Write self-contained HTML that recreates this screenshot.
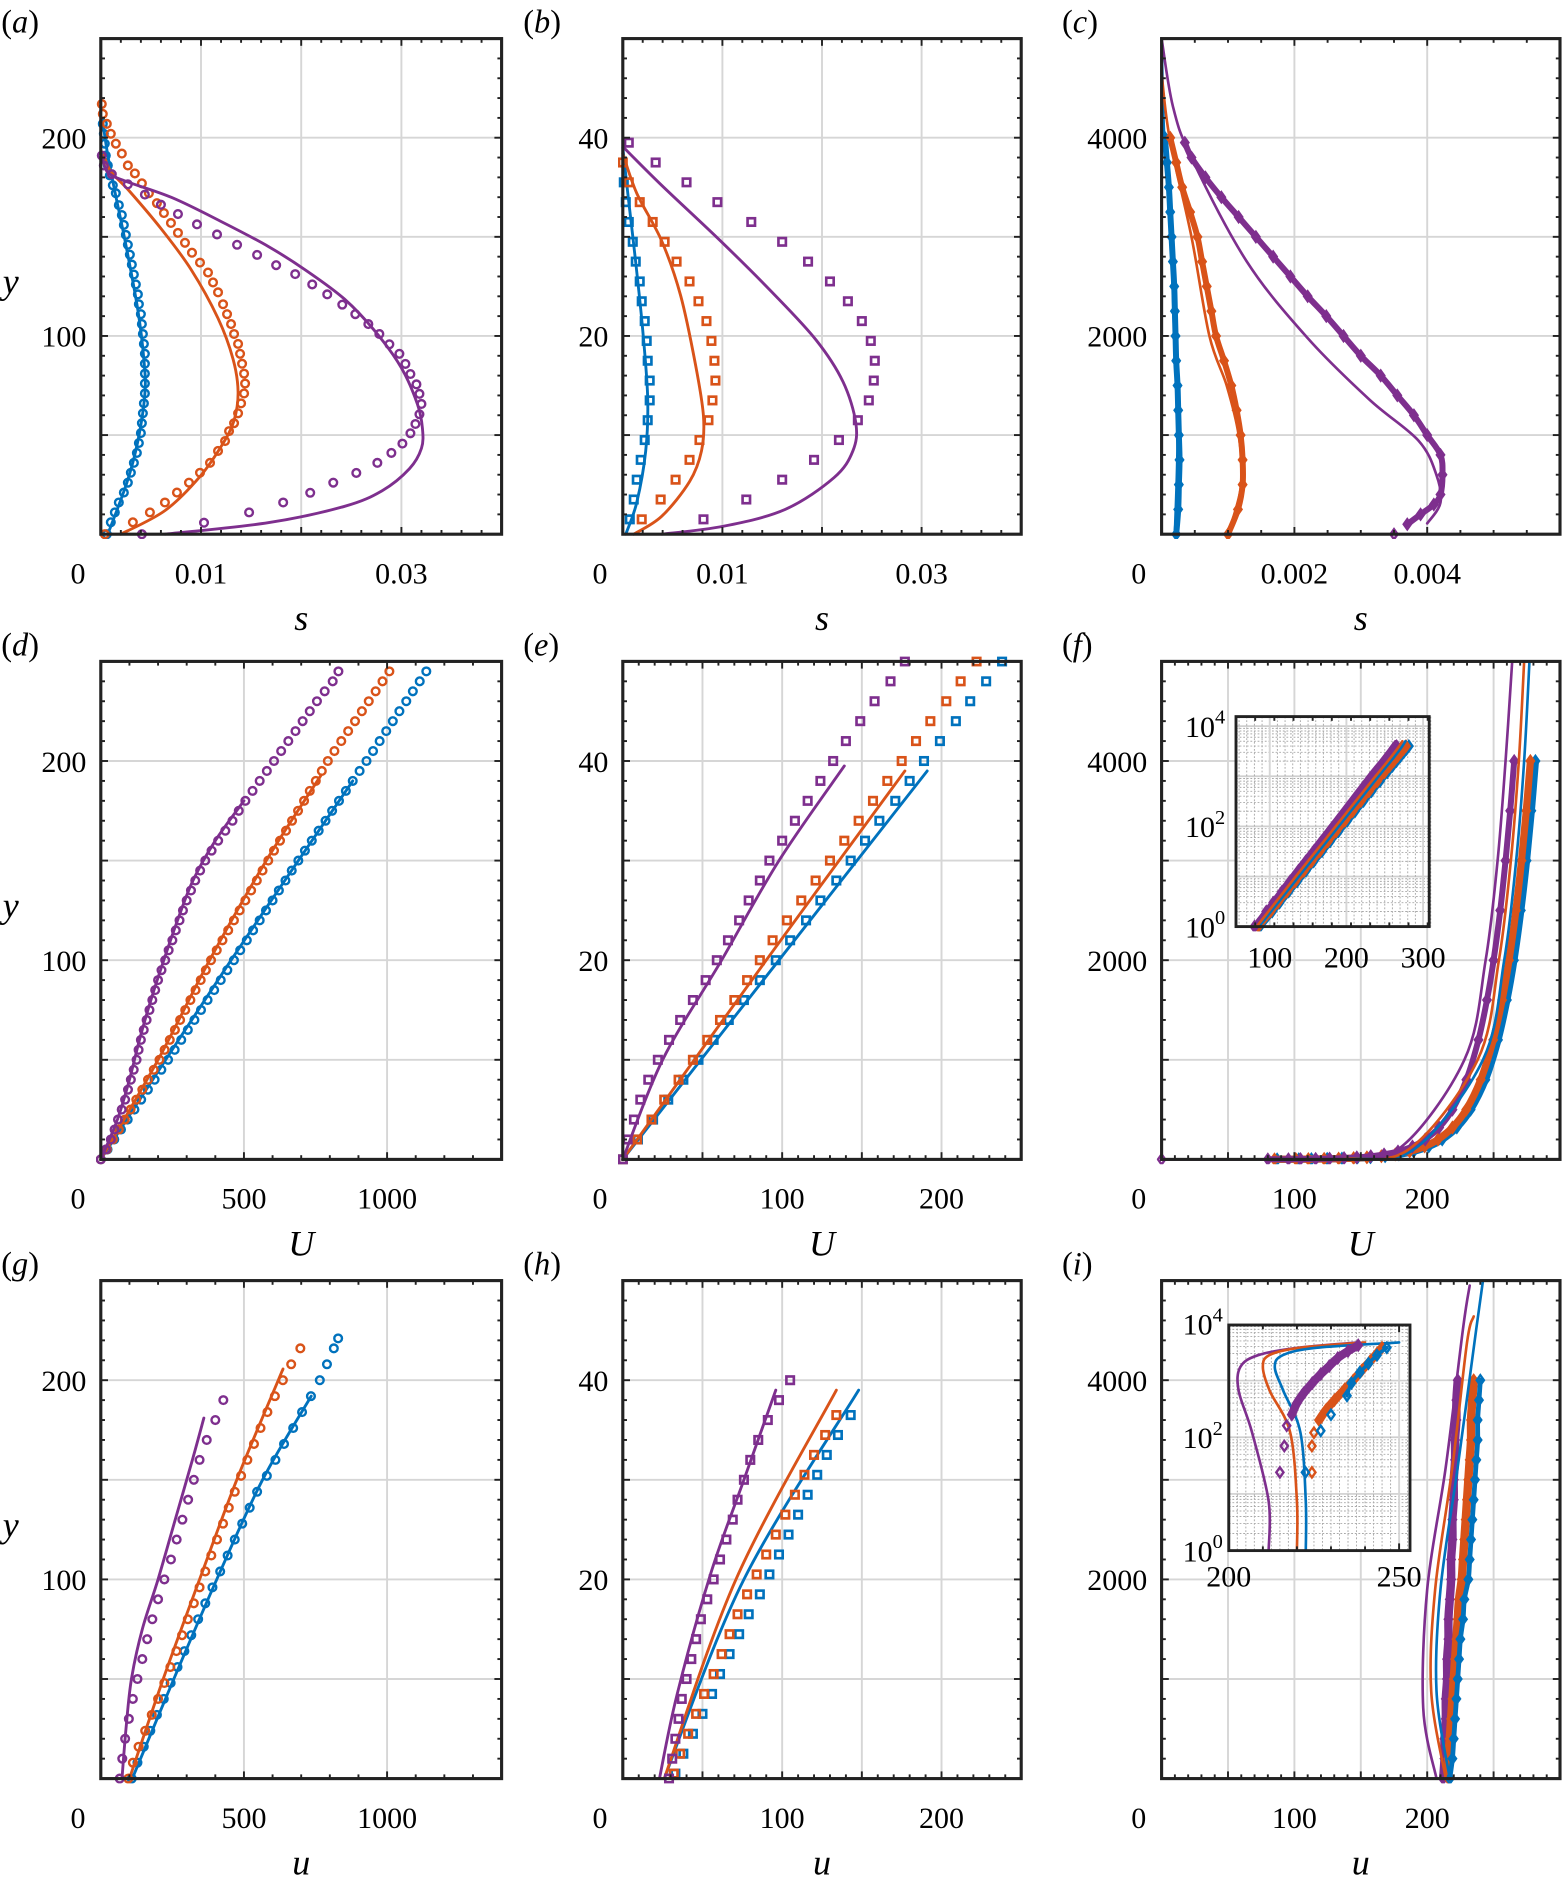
<!DOCTYPE html>
<html><head><meta charset="utf-8"><style>
html,body{margin:0;padding:0;background:#fff;}
svg{display:block;}
text{font-family:"Liberation Serif","Times New Roman",serif;}
</style></head><body>
<svg id="chart" width="1566" height="1888" viewBox="0 0 1305 1573" xmlns="http://www.w3.org/2000/svg"></svg>
<script>
// ---------- data ----------
// panel a (s vs y)
const a_y_blLine=[0,26,47,71,88,113,146,173,191,208];
const a_s_blLine=[.0007,.0026,.0037,.0044,.0043,.0037,.0025,.0014,.0007,.0002];
const a_y_blMk=[0,6,11,16,21,26,31,36,41,46,51,56,61,66,71,76,81,86,91,96,101,106,111,116,121,126,131,136,141,146,151,156,161,166,172,176,181,186,191,197,202,207];
const a_s_blMk=[.0006,.0010,.0014,.0018,.0023,.0027,.0030,.0033,.0036,.0038,.0040,.0041,.0042,.0043,.0044,.0044,.0044,.0044,.0044,.0043,.0042,.0041,.0040,.0038,.0037,.0035,.0033,.0031,.0029,.0027,.0025,.0023,.0021,.0018,.0015,.0012,.0009,.0007,.0005,.0004,.0003,.0002];
const a_y_orLine=[0,11.9,28.5,45,57.4,71.8,88.3,108.9,133.6,154.2,172.8,183,191.3];
const a_s_orLine=[.0020,.0064,.0098,.0121,.0133,.0137,.0132,.0117,.0090,.0060,.0029,.0010,.0003];
const a_y_orMk=[0,6,11,16,21,26,31,36,42,47,52,56,61,66,71,76,81,86,91,96,101,106,111,116,122,127,132,137,142,147,152,157,162,167,172,177,182,186,192,197,202,207,212,217];
const a_s_orMk=[.0004,.0032,.0049,.0064,.0076,.0088,.0099,.0109,.0117,.0124,.0128,.0133,.0137,.0140,.0143,.0144,.0143,.0141,.0139,.0137,.0133,.0130,.0126,.0122,.0117,.0112,.0107,.0099,.0091,.0084,.0077,.0070,.0063,.0056,.0048,.0041,.0034,.0027,.0021,.0015,.0010,.0006,.0002,.0001];
const a_y_puLine=[0,5.8,14,22,33,43.3,53.4,65.6,83.9,102.2,118.7,133,145.2,157.5,169.8,178,182,187,191];
const a_s_puLine=[.0064,.0167,.0243,.0281,.0308,.0320,.0321,.0316,.0300,.0274,.0243,.0205,.0167,.0121,.0071,.0025,.0008,.0003,.0001];
const a_y_puMk=[0,5.8,11,16,20.9,26,30.9,36,41,45.7,50.9,55.6,60.5,65.7,70.8,75.6,80.8,85.9,91,95.8,101,106,111,115.8,121,126,131.2,135.7,140.9,146,151.2,156.3,161.5,166.2,171.3,176.5,181.6,186,191];
const a_s_puMk=[.0041,.0103,.0148,.0182,.0209,.0232,.0255,.0276,.0290,.0301,.0309,.0314,.0318,.0320,.0318,.0315,.0309,.0304,.0298,.0288,.0278,.0267,.0254,.0241,.0226,.0211,.0194,.0175,.0156,.0136,.0116,.0096,.0077,.0060,.0044,.0027,.0011,.0003,.0001];
// panel b
const b_y_puMk=[39.5,37.5,35.5,33.5,31.5,29.5,27.5,25.5,23.5,21.5,19.5,17.5,15.5,13.5,11.5,9.5,7.5,5.5,3.5,1.5];
const b_s_puMk=[.0006,.0033,.0064,.0095,.0129,.0160,.0186,.0208,.0226,.0240,.0249,.0253,.0252,.0247,.0236,.0217,.0192,.0160,.0124,.0081];
const b_y_orMk=[37.5,35.5,33.5,31.5,29.5,27.5,25.5,23.5,21.5,19.5,17.5,15.5,13.5,11.5,9.5,7.5,5.5,3.5,1.5];
const b_s_orMk=[0,.0006,.0017,.0030,.0042,.0054,.0067,.0076,.0084,.0089,.0092,.0093,.0090,.0086,.0077,.0067,.0053,.0038,.0019];
const b_y_blMk=[35.5,33.5,31.5,29.5,27.5,25.5,23.5,21.5,19.5,17.5,15.5,13.5,11.5,9.5,7.5,5.5,3.5,1.5];
const b_s_blMk=[.0001,.0003,.0006,.0010,.0013,.0017,.0019,.0022,.0024,.0025,.0027,.0027,.0025,.0022,.0018,.0014,.0011,.0007];
const b_y_puLine=[39,35.2,29.6,24.4,19.6,15.4,11.2,8.4,5.7,2.5,0.8,0];
const b_s_puLine=[.0001,.0039,.0098,.0150,.0194,.0221,.0234,.0231,.0212,.0163,.0101,.0039];
const b_y_orLine=[38.4,34.4,29.6,24.1,17.1,11.9,8.4,5.3,1.8,0];
const b_s_orLine=[0,.0014,.0039,.0058,.0073,.0081,.0079,.0067,.0039,.0011];
const b_y_blLine=[39,34.4,27.4,20.6,13.7,8.4,3.2,0];
const b_s_blLine=[0,.0005,.0013,.0020,.0025,.0023,.0014,.0003];
// panel c
const c_y_blMk=[0,250,500,750,1000,1250,1500,1750,2000,2250,2500,2750,3000,3250,3500,3750,4000];
const c_s_blMk=[.00022,.00025,.00026,.00027,.00026,.00025,.00024,.00022,.00021,.0002,.00019,.00017,.00015,.00013,.00011,.00008,.00005];
const c_y_blLine=[0,1000,2000,3000,4000,5000];
const c_s_blLine=[.0002,.00024,.00019,.00014,.00004,0];
const c_y_orMk=[0,250,500,750,1000,1250,1500,1750,2000,2250,2500,2750,3000,3250,3500,3750,4000];
const c_s_orMk=[.0010,.00115,.00122,.00122,.00119,.00113,.00105,.00094,.00082,.00075,.00068,.00061,.00054,.00043,.00031,.00022,.00013];
const c_y_orLine=[0,500,1000,1500,2000,3000,4000,4650];
const c_s_orLine=[.0010,.0012,.00116,.00098,.00072,.00045,.00012,0];
const c_y_puMk=[0,100,200,300,400,600,800,1000,1200,1400,1600,1800,2000,2200,2400,2600,2800,3000,3200,3400,3600,3800,3950];
const c_s_puMk=[.0035,.0037,.0039,.0041,.0042,.00423,.0042,.0040,.0038,.00355,.0033,.0030,.00274,.00248,.0022,.00194,.00168,.00142,.00116,.0009,.00066,.00045,.00035];
const c_y_puLine=[5000,4317,3797,2754,1978,1358,943,596,318,109];
const c_s_puLine=[0,.00017,.00045,.00128,.0022,.00313,.00387,.00414,.0042,.0040];
// panel d
const d_y_mk=[0,5,10,15,20,25,30,35,40,45,50,55,60,65,70,75,80,85,90,95,100,105,110,115,120,125,130,135,140,145,150,155,160,165,170,175,180,185,190,195,200,205,210,215,220,225,230,235,240,245];
const d_U_puMk=[0,18,35,48,60,73,85,95,105,115,125,132,140,150,160,170,180,190,200,212,225,237,250,262,275,287,300,315,330,347,365,387,410,435,460,482,505,530,555,580,605,630,655,680,705,730,755,782,810,830];
const d_U_orMk=[0,21,42,63,84,104,124,145,165,185,205,223,241,259,277,295,313,331,349,367,385,405,425,445,465,485,505,525,545,565,585,605,626,647,668,689,710,730,751,772,793,816,840,864,888,912,936,960,984,1008];
const d_U_blMk=[0,23.5,47,70.5,94,117.5,141,164.5,188,211.5,235,258,281,304,327,350,373,396,419,442,465,487,510,532,555,577,600,622,645,667,690,713,737,761,785,808,832,856,880,904,928,951,974,997,1020,1043,1067,1090,1114,1137];
const d_y_puLine=[0,20,40,60,80,100,120,140,160,180];
const d_U_puLine=[0,58,100,135,175,220,268,322,400,500];
const d_y_orLine=[0,50,100,150,193];
const d_U_orLine=[0,200,380,578,770];
const d_y_blLine=[0,100,190];
const d_U_blLine=[0,455,880];
// panel e
const e_y_mk=[0,2,4,6,8,10,12,14,16,18,20,22,24,26,28,30,32,34,36,38,40,42,44,46,48,50];
const e_U_puMk=[0,3,7,11,16,22,29,36,44,52,59,66,73,79,86,92,100,108,116,124,132,140,149,158,168,177];
const e_U_orMk=[0,9,18,26,35,44,53,61,70,78,86,94,103,112,121,130,139,148,157,166,175,184,193,203,212,222];
const e_U_blMk=[0,9.5,19,28.5,38,47.5,57,66.5,76,86,96,105,115,124,134,143,152,161,171,180,189,199,209,218,228,238];
const e_y_puLine=[0,10,20,30,39.5];
const e_U_puLine=[0,25,62,98,139];
const e_y_orLine=[0,20,39];
const e_U_orLine=[0,90,177];
const e_y_blLine=[0,39];
const e_U_blLine=[0,191];
// panel f
const f_y_mk=[1,2,3,5,8,13,20,32,50,80,130,200,320,500,800,1200,1600,2000,2500,3000,3500,4000];
const f_U_puMk=[80,95.5,104.6,116,126.5,137.4,147,157.5,167.5,178,188.9,198.5,209,219,229.5,238.6,245,250,255,259,262.5,265.5];
const f_U_orMk=[85,101.1,110.5,122.4,133.3,144.6,154.6,165.5,175.9,186.8,198.1,208.1,219,229.4,240.3,249.7,256.4,261.6,266.8,271,274.6,277.7];
const f_U_blMk=[87,103.3,112.8,124.7,135.8,147.2,157.3,168.3,178.7,189.8,201.2,211.3,222.3,232.7,243.8,253.3,260,265.3,270.5,274.8,278.4,281.5];
const f_y_line=[0,1,10,100,1000,2000,3000,4000,5000];
const f_U_puLine=[0,78,127,178,228,244,253,259,264];
const f_U_orLine=[0,83,134,186,238,254,263,269,273];
const f_U_blLine=[0,86,138,190,242,258,267,273,277];
// panel g
const g_y_puMk=[0,10,20,30,40,50,60,70,80,90,100,110,120,130,140,150,160,170,180,190];
const g_U_puMk=[66,75,85,98,112,128,145,162,180,200,222,245,265,285,305,325,345,370,400,428];
const g_y_orMk=[0,8,16,24,32,40,48,56,64,72,80,88,96,104,112,120,128,136,144,152,160,168,176,184,192,200,208,216];
const g_U_orMk=[96,112,132,155,178,200,222,243,264,284,304,325,345,365,386,406,427,447,468,490,512,535,558,582,608,636,665,697];
const g_y_blMk=[0,8,16,24,32,40,48,56,64,72,80,88,96,104,112,120,128,136,144,152,160,168,176,184,192,200,208,216,221];
const g_U_blMk=[108,128,150,173,196,220,244,268,292,316,340,365,390,417,443,468,494,520,546,580,610,640,672,703,734,765,790,814,829];
const g_y_puLine=[0,25,50,75,100,130,160,181];
const g_U_puLine=[74,88,107,145,200,260,320,360];
const g_y_orLine=[0,50,100,150,200,205];
const g_U_orLine=[100,218,345,475,620,635];
const g_y_blLine=[0,50,100,150,192];
const g_U_blLine=[110,255,405,565,735];
// panel h
const h_y_puMk=[0,2,4,6,8,10,12,14,16,18,20,22,24,26,28,30,32,34,36,38,40];
const h_U_puMk=[29,31,33,35,37,40,43,46,49,53,57,61,65,69,72,76,80,85,91,98,105];
const h_y_mk=[0.5,2.5,4.5,6.5,8.5,10.5,12.5,14.5,16.5,18.5,20.5,22.5,24.5,26.5,28.5,30.5,32.5,34.5,36.5];
const h_U_orMk=[32,36,41,46,51,57,62,67,72,78,84,90,96,102,108,114,120,127,134];
const h_U_blMk=[33,38,44,50,56,61,67,73,79,86,92,98,104,110,116,122,128,135,143];
const h_y_puLine=[0,8.4,20.5,30,39];
const h_U_puLine=[23,34,55,76,96];
const h_y_orLine=[0,20,39];
const h_U_orLine=[26,71,134];
const h_y_blLine=[0,20,39];
const h_U_blLine=[26,76,148];
// panel i
const i_y_mk=[0,200,400,600,800,1000,1200,1400,1600,1800,2000,2200,2400,2600,2800,3000,3200,3400,3600,3800,4000];
const i_U_puMk=[212,213,213,214,214,215,215,216,216,217,218,218,219,219,220,220,221,221,222,222,223];
const i_U_orMk=[216,216,217,218,219,220,221,222,223,224,226,227,228,229,230,231,232,233,233,234,235];
const i_U_blMk=[217,219,220,221,222,223,224,225,227,228,231,232,233,234,235,236,237,238,238,239,240];
const i_y_puLine=[0,710,1900,3130,4520,4950];
const i_U_puLine=[207,197,200,214,227,232];
const i_y_orLine=[0,880,1900,3130,4380,4640];
const i_U_orLine=[214,203,206,219,230,235];
const i_y_blLine=[0,880,1900,3130,4520,5000];
const i_U_blLine=[217,207,210,223,237,242];
// inset i
const ii_y_line=[1,7.4,123,660,1740,2830,3800,4700];
const ii_U_puLine=[211.7,211.7,206.8,202.9,203.4,208.8,220.5,238];
const ii_U_orLine=[220,220,218,212,210,212,221,240];
const ii_U_blLine=[222.6,222.6,221,216,213.5,216,226,250];
const ii_y_puMk=[24,70,160,250,400,600,900,1300,1800,2500,3300,4200];
const ii_U_puMk=[215,216.3,217,218.5,220,222,224.5,227,229.5,232,235,238];
const ii_y_orMk=[24,70,120,200,300,450,700,1000,1500,2200,3000,3800];
const ii_U_orMk=[224.4,224.4,225,226.5,228.5,231,234,236.5,239,241.5,243.5,245];
const ii_y_blMk=[24,130,250,540,900,1400,2000,2800,3800];
const ii_U_blMk=[222.5,227,230,234.7,236,238.5,241,243.5,246.4];

// ---------- drawing ----------
const NS='http://www.w3.org/2000/svg';
const svg=document.getElementById('chart');
const BL='#0072BD', OR='#D95319', PU='#7E2F8E';
const FONT='"Liberation Serif", serif';
let clipId=0;
function mk(tag,attrs,parent){const e=document.createElementNS(NS,tag);for(const k in attrs)e.setAttribute(k,attrs[k]);(parent||svg).appendChild(e);return e;}
function fx(p,v){return p.box[0]+(v-p.x[0])/(p.x[1]-p.x[0])*(p.box[2]-p.box[0]);}
function fy(p,v){if(p.log){if(v<=0)return null;v=Math.log10(v);}return p.box[3]-(v-p.y[0])/(p.y[1]-p.y[0])*(p.box[3]-p.box[1]);}
function pts(p,xs,ys){const o=[];for(let i=0;i<xs.length;i++){const Y=fy(p,ys[i]);if(Y===null)continue;o.push([fx(p,xs[i]),Y]);}return o;}
function smooth(P){if(P.length<3)return 'M'+P.map(q=>q[0].toFixed(2)+','+q[1].toFixed(2)).join('L');
 let d='M'+P[0][0].toFixed(2)+','+P[0][1].toFixed(2);
 for(let i=0;i<P.length-1;i++){const p0=P[Math.max(0,i-1)],p1=P[i],p2=P[i+1],p3=P[Math.min(P.length-1,i+2)];
  const c1=[p1[0]+(p2[0]-p0[0])/6,p1[1]+(p2[1]-p0[1])/6],c2=[p2[0]-(p3[0]-p1[0])/6,p2[1]-(p3[1]-p1[1])/6];
  d+='C'+c1[0].toFixed(2)+','+c1[1].toFixed(2)+' '+c2[0].toFixed(2)+','+c2[1].toFixed(2)+' '+p2[0].toFixed(2)+','+p2[1].toFixed(2);}
 return d;}
function line(g,p,xs,ys,color,w,name){const e=mk('path',{d:smooth(pts(p,xs,ys)),fill:'none',stroke:color,'stroke-width':w,'stroke-linejoin':'round','stroke-linecap':'round'},g);
 
 }
function markers(g,p,xs,ys,color,shape,name){const P=pts(p,xs,ys);
 for(const q of P){let e;
  if(shape==='circle')e=mk('circle',{cx:q[0],cy:q[1],r:3.2,fill:'none',stroke:color,'stroke-width':2},g);
  else if(shape==='square')e=mk('rect',{x:q[0]-3.1,y:q[1]-3.1,width:6.2,height:6.2,fill:'none',stroke:color,'stroke-width':2.2},g);
  else e=mk('polygon',{points:`${q[0]},${q[1]-4.2} ${q[0]+3},${q[1]} ${q[0]},${q[1]+4.2} ${q[0]-3},${q[1]}`,fill:'none',stroke:color,'stroke-width':2},g);
  
  }}
function txt(parent,x,y,s,size,anchor,italic,name){const e=mk('text',{x:x,y:y,'font-size':size,'font-family':FONT,'text-anchor':anchor||'middle','font-style':italic?'italic':'normal',fill:'#000'},parent);e.textContent=s;
 
 return e;}
function range(a,b,s){const o=[];const n=Math.round((b-a)/s);for(let i=0;i<=n;i++)o.push(a+i*s);return o;}

function axes(p,name){
 const g=mk('g',{},svg);
 
 
 const [x0,y0,x1,y1]=p.box;
 if(p.bg){const bg=mk('rect',{x:x0,y:y0,width:x1-x0,height:y1-y0,fill:'#fff'},g);
  
  }
 if(p.log){
  for(let d=0;d<5;d++)for(let k=1;k<10;k++){const v=Math.log10(k*Math.pow(10,d));if(v<=p.y[0]||v>=p.y[1])continue;const Y=fy({...p,log:false},v);
   const e=mk('line',{x1:x0,x2:x1,y1:Y,y2:Y,stroke:k===1?'#cfcfcf':'#aaa','stroke-width':k===1?1.4:0.8,'stroke-dasharray':k===1?'':'1.5,1.5'},g);
   
   }
  for(const v of range(Math.ceil(p.x[0]/p.xmg)*p.xmg,p.x[1],p.xmg)){const X=fx(p,v);
   const e=mk('line',{x1:X,x2:X,y1:y0,y2:y1,stroke:'#aaa','stroke-width':0.8,'stroke-dasharray':'1.5,1.5'},g);
   
   }
 }
 for(const v of range(Math.ceil(p.x[0]/p.xg-1e-9)*p.xg,p.x[1],p.xg)){const X=fx(p,v);if(X<=x0+1||X>=x1-1)continue;
  const e=mk('line',{x1:X,x2:X,y1:y0,y2:y1,stroke:'#d6d6d6','stroke-width':1.6},g);
  
  }
 if(!p.log)for(const v of range(p.y[0],p.y[1],p.yg)){const Y=fy(p,v);if(Y<=y0+1||Y>=y1-1)continue;
  const e=mk('line',{x1:x0,x2:x1,y1:Y,y2:Y,stroke:'#d6d6d6','stroke-width':1.6},g);
  
  }
 clipId++;const cp=mk('clipPath',{id:'cp'+clipId},g);
 const cr=mk('rect',{x:x0-4,y:y0-4,width:x1-x0+8,height:y1-y0+8},cp);
 
 
 const plot=mk('g',{'clip-path':`url(#cp${clipId})`},g);
 
 
 const tk=(X1,Y1,X2,Y2,nm)=>{const e=mk('line',{x1:X1,y1:Y1,x2:X2,y2:Y2,stroke:'#222','stroke-width':1.6},g);
  
  };
 if(p.xm)for(const v of range(p.x[0],p.x[1],p.xm)){const X=fx(p,v);if(X<x0||X>x1)continue;const L=(Math.abs(v/p.xg-Math.round(v/p.xg))<1e-6)?6:3.5;tk(X,y1,X,y1-L,'x-tick');tk(X,y0,X,y0+L,'x-tick');}
 if(p.ym)for(const v of range(p.y[0],p.y[1],p.ym)){const Y=fy(p,v);const L=(Math.abs(v/p.yg-Math.round(v/p.yg))<1e-6)?6:3.5;tk(x0,Y,x0+L,Y,'y-tick');tk(x1,Y,x1-L,Y,'y-tick');}
 p.plot=plot;p.g=g;return p;}
function frame(p,name){const [x0,y0,x1,y1]=p.box;
 const e=mk('rect',{x:x0,y:y0,width:x1-x0,height:y1-y0,fill:'none',stroke:'#222','stroke-width':p.bw||2.6},p.g);
 
 }
function labels(p,xl,yl,xt,pl,showY){const [x0,y0,x1,y1]=p.box;
 for(const [v,s] of xl){const X=v===0?x0-19:fx(p,v);txt(p.g,X,y1+41,s,25,'middle',false,'x-tick-label');}
 for(const [v,s] of yl){txt(p.g,x0-12,fy(p,v)+9,s,25,'end',false,'y-tick-label');}
 txt(p.g,(x0+x1)/2,y1+80,xt,30,'middle',true,'x-axis-title');
 if(showY)txt(p.g,9,(y0+y1)/2+6,'y',30,'middle',true,'y-axis-title');
 const t=txt(p.g,x0-84+1,y0-5,'',27,'start',false,'panel-label');
 const a=mk('tspan',{},t);a.textContent='(';
 
 
 const b=mk('tspan',{'font-style':'italic'},t);b.textContent=pl;
 
 
 const c=mk('tspan',{},t);c.textContent=')';
 
 }

const COLS=[[84,418],[519,851],[968,1300]], ROWS=[[32,445],[551,966],[1067,1482]];
const box=(c,r)=>[COLS[c][0],ROWS[r][0],COLS[c][1],ROWS[r][1]];
const sL=[[0,'0'],[0.01,'0.01'],[0.03,'0.03']];

// (a)
let p=axes({box:box(0,0),x:[0,.04],y:[0,250],xg:.01,yg:50,xm:.002,ym:10},'panel-a');
line(p.plot,p,a_s_blLine,a_y_blLine,BL,2.4,'line-blue');markers(p.plot,p,a_s_blMk,a_y_blMk,BL,'circle','marker-blue');
line(p.plot,p,a_s_orLine,a_y_orLine,OR,2.4,'line-orange');markers(p.plot,p,a_s_orMk,a_y_orMk,OR,'circle','marker-orange');
line(p.plot,p,a_s_puLine,a_y_puLine,PU,2.4,'line-purple');markers(p.plot,p,a_s_puMk,a_y_puMk,PU,'circle','marker-purple');
frame(p,'axes-box');labels(p,sL,[[100,'100'],[200,'200']],'s','a',true);
// (b)
p=axes({box:box(1,0),x:[0,.04],y:[0,50],xg:.01,yg:10,xm:.002,ym:2},'panel-b');
line(p.plot,p,b_s_blLine,b_y_blLine,BL,2.4,'line-blue');markers(p.plot,p,b_s_blMk,b_y_blMk,BL,'square','marker-blue');
line(p.plot,p,b_s_orLine,b_y_orLine,OR,2.4,'line-orange');markers(p.plot,p,b_s_orMk,b_y_orMk,OR,'square','marker-orange');
line(p.plot,p,b_s_puLine,b_y_puLine,PU,2.4,'line-purple');markers(p.plot,p,b_s_puMk,b_y_puMk,PU,'square','marker-purple');
frame(p,'axes-box');labels(p,sL,[[20,'20'],[40,'40']],'s','b',false);
// (c)
p=axes({box:box(2,0),x:[0,.006],y:[0,5000],xg:.002,yg:1000,xm:.0005,ym:200},'panel-c');
line(p.plot,p,c_s_blMk,c_y_blMk,BL,5,'band-blue');markers(p.plot,p,c_s_blMk,c_y_blMk,BL,'diamond','marker-blue');line(p.plot,p,c_s_blLine,c_y_blLine,BL,2.2,'line-blue');
line(p.plot,p,c_s_orMk,c_y_orMk,OR,5,'band-orange');markers(p.plot,p,c_s_orMk,c_y_orMk,OR,'diamond','marker-orange');line(p.plot,p,c_s_orLine,c_y_orLine,OR,2.2,'line-orange');
line(p.plot,p,c_s_puMk.slice(1),c_y_puMk.slice(1),PU,5,'band-purple');markers(p.plot,p,c_s_puMk,c_y_puMk,PU,'diamond','marker-purple');line(p.plot,p,c_s_puLine,c_y_puLine,PU,2.2,'line-purple');
frame(p,'axes-box');labels(p,[[0,'0'],[.002,'0.002'],[.004,'0.004']],[[2000,'2000'],[4000,'4000']],'s','c',false);
// (d)
const uL=[[0,'0'],[500,'500'],[1000,'1000']];
p=axes({box:box(0,1),x:[0,1400],y:[0,250],xg:500,yg:50,xm:100,ym:10},'panel-d');
line(p.plot,p,d_U_blLine,d_y_blLine,BL,2.4,'line-blue');markers(p.plot,p,d_U_blMk,d_y_mk,BL,'circle','marker-blue');
line(p.plot,p,d_U_orLine,d_y_orLine,OR,2.4,'line-orange');markers(p.plot,p,d_U_orMk,d_y_mk,OR,'circle','marker-orange');
line(p.plot,p,d_U_puLine,d_y_puLine,PU,2.4,'line-purple');markers(p.plot,p,d_U_puMk,d_y_mk,PU,'circle','marker-purple');
frame(p,'axes-box');labels(p,uL,[[100,'100'],[200,'200']],'U','d',true);
// (e)
const eL=[[0,'0'],[100,'100'],[200,'200']];
p=axes({box:box(1,1),x:[0,250],y:[0,50],xg:50,yg:10,xm:10,ym:2},'panel-e');
line(p.plot,p,e_U_blLine,e_y_blLine,BL,2.4,'line-blue');markers(p.plot,p,e_U_blMk,e_y_mk,BL,'square','marker-blue');
line(p.plot,p,e_U_orLine,e_y_orLine,OR,2.4,'line-orange');markers(p.plot,p,e_U_orMk,e_y_mk,OR,'square','marker-orange');
line(p.plot,p,e_U_puLine,e_y_puLine,PU,2.4,'line-purple');markers(p.plot,p,e_U_puMk,e_y_mk,PU,'square','marker-purple');
frame(p,'axes-box');labels(p,eL,[[20,'20'],[40,'40']],'U','e',false);
// (f)
p=axes({box:box(2,1),x:[0,300],y:[0,5000],xg:50,yg:1000,xm:10,ym:200},'panel-f');
function fSeries(q){
 line(q.plot,q,f_U_blMk,f_y_mk,BL,6,'band-blue');markers(q.plot,q,f_U_blMk,f_y_mk,BL,'diamond','marker-blue');
 line(q.plot,q,f_U_orMk,f_y_mk,OR,6,'band-orange');markers(q.plot,q,f_U_orMk,f_y_mk,OR,'diamond','marker-orange');
 line(q.plot,q,f_U_puMk,f_y_mk,PU,5,'band-purple');markers(q.plot,q,f_U_puMk,f_y_mk,PU,'diamond','marker-purple');
 line(q.plot,q,f_U_blLine,f_y_line,BL,2.2,'line-blue');line(q.plot,q,f_U_orLine,f_y_line,OR,2.2,'line-orange');line(q.plot,q,f_U_puLine,f_y_line,PU,2.2,'line-purple');}
fSeries(p);
markers(p.plot,p,[0],[0],PU,'diamond','marker-purple-origin');
frame(p,'axes-box');labels(p,eL,[[2000,'2000'],[4000,'4000']],'U','f',false);
let q=axes({box:[1030,597,1191,772],x:[56,308],y:[0,4.19],log:true,xg:100,xmg:10,xm:25,bg:true,bw:2.4},'inset-f');
fSeries(q);frame(q,'inset-box');
for(const [v,s] of [[100,'100'],[200,'200'],[300,'300']])txt(q.g,fx(q,v),806,s,25,'middle',false,'inset-x-tick-label');
for(const d of [0,2,4]){const Y=772-d/4.19*175;const t=txt(q.g,1021,Y+9,'10',25,'end',false,'inset-y-tick-label');const sp=mk('tspan',{dy:-11,'font-size':17},t);sp.textContent=String(d);
 
 }
// (g)
p=axes({box:box(0,2),x:[0,1400],y:[0,250],xg:500,yg:50,xm:100,ym:10},'panel-g');
line(p.plot,p,g_U_blLine,g_y_blLine,BL,2.4,'line-blue');markers(p.plot,p,g_U_blMk,g_y_blMk,BL,'circle','marker-blue');
line(p.plot,p,g_U_orLine,g_y_orLine,OR,2.4,'line-orange');markers(p.plot,p,g_U_orMk,g_y_orMk,OR,'circle','marker-orange');
line(p.plot,p,g_U_puLine,g_y_puLine,PU,2.4,'line-purple');markers(p.plot,p,g_U_puMk,g_y_puMk,PU,'circle','marker-purple');
frame(p,'axes-box');labels(p,uL,[[100,'100'],[200,'200']],'u','g',true);
// (h)
p=axes({box:box(1,2),x:[0,250],y:[0,50],xg:50,yg:10,xm:10,ym:2},'panel-h');
line(p.plot,p,h_U_blLine,h_y_blLine,BL,2.4,'line-blue');markers(p.plot,p,h_U_blMk,h_y_mk,BL,'square','marker-blue');
line(p.plot,p,h_U_orLine,h_y_orLine,OR,2.4,'line-orange');markers(p.plot,p,h_U_orMk,h_y_mk,OR,'square','marker-orange');
line(p.plot,p,h_U_puLine,h_y_puLine,PU,2.4,'line-purple');markers(p.plot,p,h_U_puMk,h_y_puMk,PU,'square','marker-purple');
frame(p,'axes-box');labels(p,eL,[[20,'20'],[40,'40']],'u','h',false);
// (i)
p=axes({box:box(2,2),x:[0,300],y:[0,5000],xg:50,yg:1000,xm:10,ym:200},'panel-i');
line(p.plot,p,i_U_puMk,i_y_mk,PU,7,'band-purple');markers(p.plot,p,i_U_puMk,i_y_mk,PU,'diamond','marker-purple');
line(p.plot,p,i_U_orMk,i_y_mk,OR,7,'band-orange');markers(p.plot,p,i_U_orMk,i_y_mk,OR,'diamond','marker-orange');
line(p.plot,p,i_U_blMk,i_y_mk,BL,4,'band-blue');markers(p.plot,p,i_U_blMk,i_y_mk,BL,'diamond','marker-blue');
line(p.plot,p,i_U_puLine,i_y_puLine,PU,2.2,'line-purple');line(p.plot,p,i_U_orLine,i_y_orLine,OR,2.2,'line-orange');line(p.plot,p,i_U_blLine,i_y_blLine,BL,2.2,'line-blue');
frame(p,'axes-box');labels(p,eL,[[2000,'2000'],[4000,'4000']],'u','i',false);
q=axes({box:[1024,1104,1175,1292],x:[200,253.2],y:[0,3.98],log:true,xg:50,xmg:2.5,xm:10,bg:true,bw:2.4},'inset-i');
line(q.plot,q,ii_U_puLine,ii_y_line,PU,2.2,'line-purple');line(q.plot,q,ii_U_orLine,ii_y_line,OR,2.2,'line-orange');line(q.plot,q,ii_U_blLine,ii_y_line,BL,2.2,'line-blue');
line(q.plot,q,ii_U_puMk.slice(3),ii_y_puMk.slice(3),PU,7,'band-purple');markers(q.plot,q,ii_U_puMk,ii_y_puMk,PU,'diamond','marker-purple');
line(q.plot,q,ii_U_orMk.slice(3),ii_y_orMk.slice(3),OR,7,'band-orange');markers(q.plot,q,ii_U_orMk,ii_y_orMk,OR,'diamond','marker-orange');
line(q.plot,q,ii_U_blMk.slice(3),ii_y_blMk.slice(3),BL,3,'band-blue');markers(q.plot,q,ii_U_blMk,ii_y_blMk,BL,'diamond','marker-blue');
frame(q,'inset-box');
for(const [v,s] of [[200,'200'],[250,'250']])txt(q.g,fx(q,v),1322,s,25,'middle',false,'inset-x-tick-label');
for(const d of [0,2,4]){const Y=1292-d/3.98*188;const t=txt(q.g,1019,Y+9,'10',25,'end',false,'inset-y-tick-label');const sp=mk('tspan',{dy:-11,'font-size':17},t);sp.textContent=String(d);
 
 }
</script>
</body></html>
